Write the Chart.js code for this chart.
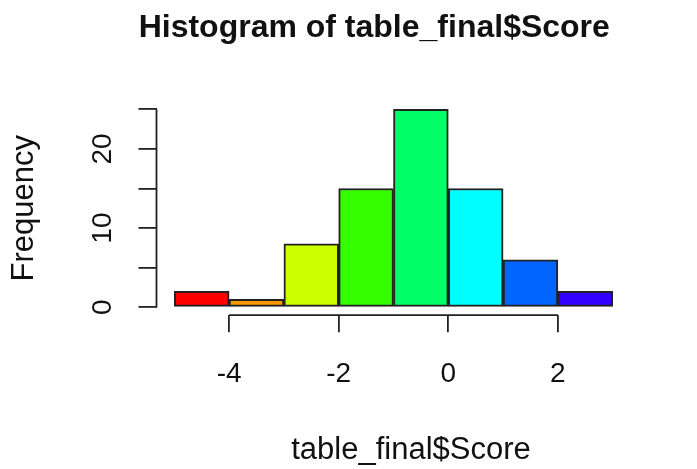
<!DOCTYPE html>
<html>
	<head>
		<meta charset="utf-8" />
		<title>Histogram of table_final$Score</title>
		<script src="https://cdn.jsdelivr.net/npm/chart.js@4.4.1/dist/chart.umd.min.js"></script>
		<style>
			html, body { margin: 0; padding: 0; background: #fff; }
			#box { width: 697px; height: 469px; }
		</style>
	</head>
	<body>
		<div id="box"><canvas id="histChart"></canvas></div>
	<script>
        // histogram bins (centres of the unit-wide breaks from -5 to 3) and counts
        const binCenters = [-4.5, -3.5, -2.5, -1.5, -0.5, 0.5, 1.5, 2.5];
        const counts = [2, 1, 8, 15, 25, 15, 6, 2];
        // rainbow(10) colours, first 8 used
        const barColors = ['#FF0000', '#FF9900', '#CCFF00', '#33FF00', '#00FF66', '#00FFFF', '#0066FF', '#3300FF'];
        const xTicks = [-4, -2, 0, 2];
        const yTicks = [0, 5, 10, 15, 20, 25];
        const yLabelled = [0, 10, 20];

        const axisColor = '#222';

        //R style axes: line only from first to last tick
        const rAxes = {
            id: 'rAxes',
            afterDraw(chart) {
                const {ctx, chartArea, scales: {x, y}} = chart;
                ctx.save();
                ctx.strokeStyle = axisColor;
                ctx.lineWidth = 1.8;
                ctx.beginPath();
                ctx.moveTo(x.getPixelForValue(xTicks[0]), chartArea.bottom);
                ctx.lineTo(x.getPixelForValue(xTicks[xTicks.length - 1]), chartArea.bottom);
                ctx.moveTo(chartArea.left, y.getPixelForValue(yTicks[0]));
                ctx.lineTo(chartArea.left, y.getPixelForValue(yTicks[yTicks.length - 1]));
                ctx.stroke();
                ctx.restore();
            }
        };

        Chart.defaults.font.family = '"Liberation Sans", Arial, sans-serif';
        Chart.defaults.color = '#111';

        let ctx = document.getElementById('histChart').getContext('2d');
        let hist = new Chart(ctx, {
            type: 'bar',
            data: {
                datasets: [{
                    data: binCenters.map((c, i) => ({x: c, y: counts[i]})),
                    backgroundColor: barColors,
                    borderColor: axisColor,
                    borderWidth: 2,
                    borderSkipped: false,
                    barPercentage: 1,
                    categoryPercentage: 1,
                }]
            },
            options: {
                responsive: true,
                maintainAspectRatio: false,
                animation: false,
                layout: { padding: { left: 83, right: 31.5, top: 0, bottom: 0 } },
                plugins: {
                    legend: { display: false },
                    tooltip: { enabled: false },
                    title: {
                        display: true,
                        text: 'Histogram of table_final$Score',
                        color: '#111',
                        font: { size: 32, weight: 'bold' },
                        padding: { top: 8.6, bottom: 54.4 }
                    }
                },
                scales: {
                    x: {
                        type: 'linear',
                        offset: false,
                        min: -5.325,
                        max: 3.964,
                        afterBuildTicks: (s) => { s.ticks = xTicks.map(v => ({value: v})); },
                        afterFit: (s) => { s.height = 153.8; },
                        border: { display: false },
                        grid: { offset: false, drawOnChartArea: false, drawTicks: true, tickLength: 17, color: axisColor, lineWidth: 1.8 },
                        ticks: { font: { size: 28 }, color: '#111', padding: 25, autoSkip: false, maxRotation: 0 },
                        title: { display: true, text: 'table_final$Score', color: '#111', font: { size: 31 }, padding: { top: 0, bottom: 0 } }
                    },
                    y: {
                        min: -1,
                        max: 26,
                        afterBuildTicks: (s) => { s.ticks = yTicks.map(v => ({value: v})); },
                        afterFit: (s) => { s.width = 73.5; },
                        border: { display: false },
                        grid: { drawOnChartArea: false, drawTicks: true, tickLength: 18, color: axisColor, lineWidth: 1.8 },
                        ticks: {
                            font: { size: 28 },
                            color: '#111',
                            minRotation: 90,
                            maxRotation: 90,
                            crossAlign: 'center',
                            padding: 20,
                            callback: (v) => yLabelled.includes(v) ? String(v) : ''
                        },
                        title: { display: true, text: 'Frequency', color: '#111', font: { size: 31 }, padding: { top: -77.4, bottom: 0 } }
                    }
                }
            },
            plugins: [rAxes]
        });
	</script>
	</body>
</html>
